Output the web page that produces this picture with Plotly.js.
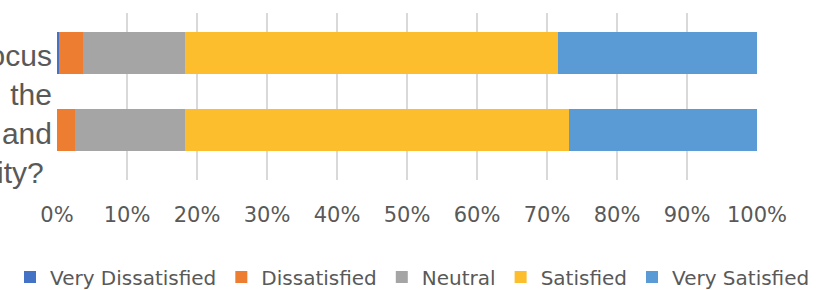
<!DOCTYPE html>
<html>
<head>
<meta charset="utf-8">
<script src="https://cdn.plot.ly/plotly-3.0.1.min.js"></script>
<style>
html, body { margin: 0; padding: 0; background: #ffffff; }
#chart { width: 825px; height: 290px; }
</style>
</head>
<body>
<div id="chart"></div>
<script>
// Categories (bottom first, as Plotly stacks categories upward)
const categories = [
  "How satisfied are you with&nbsp; the<br>program's relevance and<br>sense of community?&nbsp;",
  "Satisfaction with program focus"
];
const seriesNames = ["Very Dissatisfied", "Dissatisfied", "Neutral", "Satisfied", "Very Satisfied"];
const veryDissatisfied = [0.0, 0.3];
const dissatisfied     = [2.6, 3.4];
const neutral          = [15.7, 14.6];
const satisfied        = [54.8, 53.3];
const verySatisfied    = [26.9, 28.4];
const seriesColors = ["#4472C4", "#ED7D31", "#A5A5A5", "#FDBE2E", "#5B9BD5"];
const xTickValues = [0, 10, 20, 30, 40, 50, 60, 70, 80, 90, 100];
const xTickLabels = ["0%", "10%", "20%", "30%", "40%", "50%", "60%", "70%", "80%", "90%", "100%"];

const seriesValues = [veryDissatisfied, dissatisfied, neutral, satisfied, verySatisfied];

const traces = seriesNames.map((name, i) => ({
  type: "bar",
  orientation: "h",
  name: name,
  y: categories,
  x: seriesValues[i],
  width: 0.545,
  marker: { color: seriesColors[i], line: { width: 0 } },
  hoverinfo: "skip"
}));

const W = 825;
const layout = {
  width: W,
  height: 290,
  paper_bgcolor: "#ffffff",
  plot_bgcolor: "rgba(0,0,0,0)",
  barmode: "stack",
  margin: { l: 0, r: 0, t: 13, b: 110, pad: 0 },
  showlegend: true,
  legend: {
    orientation: "h",
    traceorder: "normal",
    x: 0.5,
    xanchor: "center",
    yref: "container",
    y: 0.045,
    yanchor: "middle",
    font: { family: "DejaVu Sans", size: 20, color: "#595959" },
    itemclick: false,
    itemdoubleclick: false
  },
  xaxis: {
    domain: [57 / W, 757 / W],
    range: [0, 100],
    tickmode: "array",
    tickvals: xTickValues,
    ticktext: xTickLabels,
    showgrid: true,
    gridcolor: "#d9d9d9",
    gridwidth: 2,
    zeroline: false,
    showline: false,
    ticks: "",
    ticklabelstandoff: 20,
    tickfont: { family: "DejaVu Sans", size: 21, color: "#595959" },
    fixedrange: true
  },
  yaxis: {
    type: "category",
    range: [-0.649, 1.519],
    showgrid: false,
    zeroline: false,
    showline: false,
    ticks: "",
    automargin: false,
    ticklabelstandoff: 4,
    ticklabelshift: 3,
    tickfont: { family: "Liberation Sans", size: 30, color: "#595959" },
    fixedrange: true
  }
};

Plotly.newPlot("chart", traces, layout, { displayModeBar: false, staticPlot: true });
</script>
</body>
</html>
